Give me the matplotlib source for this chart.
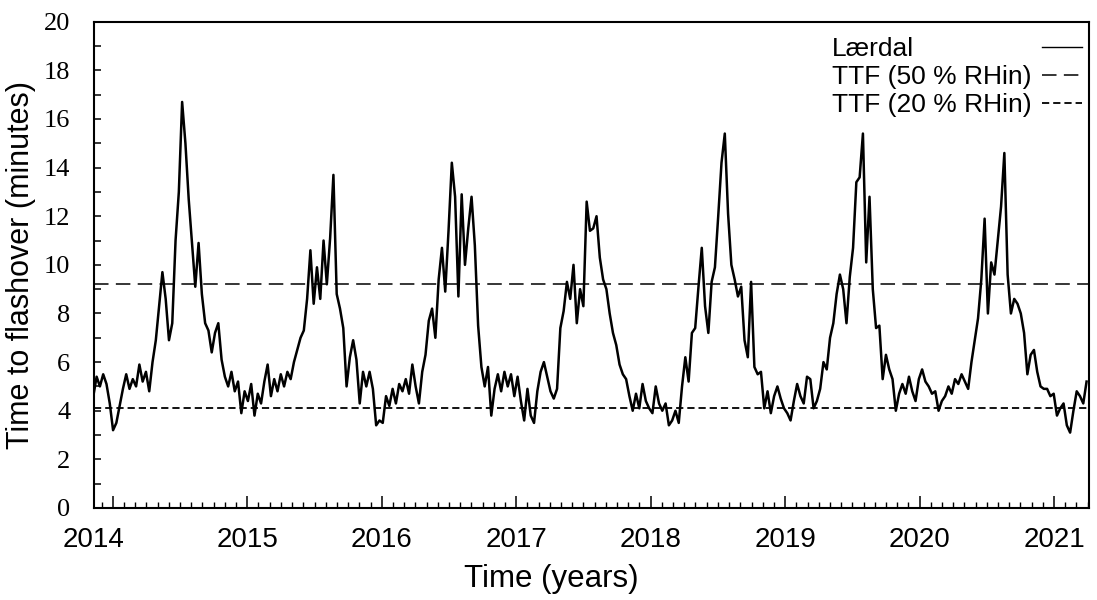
import numpy as np
import matplotlib.pyplot as plt
from matplotlib.ticker import MultipleLocator

# Time to flashover at Lærdal.
# One value roughly every 9 days, starting late Nov 2013.
t_start = 2013.855
t_step = 0.02446  # years

ttf_a = [4.6, 5.4, 5.0, 5.5, 5.1, 4.3, 3.2, 3.5, 4.2, 4.9,
         5.5, 4.9, 5.3, 5.0, 5.9, 5.2, 5.6, 4.8, 6.0, 6.9,
         8.3, 9.7, 8.6, 6.9, 7.6, 11.0, 13.0, 16.7, 15.0, 12.7,
         10.9, 9.1, 10.9, 8.8, 7.6, 7.3, 6.4, 7.2]
ttf_b = [7.6, 6.1, 5.4, 5.0, 5.6, 4.8, 5.2, 3.9, 4.8, 4.4,
         5.1, 3.8, 4.7, 4.3, 5.2, 5.9, 4.6, 5.3, 4.8, 5.5,
         5.0, 5.6, 5.3, 6.0, 6.5, 7.0, 7.3, 8.6, 10.6, 8.4,
         9.9, 8.6, 11.0, 9.2, 11.1, 13.7, 8.8, 8.2]
ttf_c = [7.4, 5.0, 6.2, 6.9, 6.1, 4.3, 5.6, 5.0, 5.6, 4.9,
         3.4, 3.6, 3.5, 4.6, 4.2, 4.9, 4.3, 5.1, 4.8, 5.3,
         4.7, 5.9, 5.0, 4.3, 5.6, 6.3, 7.7, 8.2, 7.0, 9.4,
         10.7, 8.9, 11.4, 14.2, 12.8, 8.7, 12.9, 10.0]
ttf_d = [11.5, 12.8, 10.8, 7.5, 5.8, 5.0, 5.8, 3.8, 4.9, 5.5,
         4.8, 5.6, 5.0, 5.5, 4.6, 5.4, 4.4, 3.6, 4.9, 3.8,
         3.5, 4.8, 5.6, 6.0, 5.4, 4.8, 4.5, 4.9, 7.4, 8.1,
         9.3, 8.6, 10.0, 7.6, 9.0, 8.3, 12.6, 11.4]
ttf_e = [11.5, 12.0, 10.3, 9.4, 9.0, 8.0, 7.2, 6.7, 5.9, 5.5,
         5.3, 4.6, 4.0, 4.7, 4.1, 5.1, 4.4, 4.1, 3.9, 5.0,
         4.3, 4.0, 4.3, 3.4, 3.6, 4.0, 3.5, 5.0, 6.2, 5.2,
         7.2, 7.4, 9.1, 10.7, 8.3, 7.2, 9.3, 9.9]
ttf_f = [12.0, 14.2, 15.4, 12.1, 10.0, 9.4, 8.7, 9.1, 6.9, 6.2,
         9.3, 5.8, 5.5, 5.6, 4.1, 4.8, 3.9, 4.6, 5.0, 4.5,
         4.1, 3.9, 3.6, 4.4, 5.1, 4.6, 4.3, 5.4, 5.3, 4.1,
         4.4, 4.9, 6.0, 5.7, 7.0, 7.6, 8.8, 9.6]
ttf_g = [9.0, 7.6, 9.5, 10.7, 13.4, 13.6, 15.4, 10.1, 12.8, 9.0,
         7.4, 7.5, 5.3, 6.3, 5.7, 5.3, 4.0, 4.7, 5.1, 4.7,
         5.4, 4.8, 4.4, 5.3, 5.7, 5.2, 5.0, 4.7, 4.8, 4.0,
         4.4, 4.6, 5.0, 4.7, 5.3, 5.1, 5.5, 5.2]
ttf_h = [4.9, 6.0, 6.9, 7.8, 9.4, 11.9, 8.0, 10.1, 9.6, 11.0,
         12.4, 14.6, 9.6, 8.0, 8.6, 8.4, 8.0, 7.2, 5.5, 6.3,
         6.5, 5.6, 5.0, 4.9, 4.9, 4.6, 4.7, 3.8, 4.1, 4.3,
         3.4, 3.1, 4.0, 4.8, 4.6, 4.3, 5.2]

ttf = np.concatenate([ttf_a, ttf_b, ttf_c, ttf_d, ttf_e, ttf_f, ttf_g, ttf_h])
t = t_start + t_step * np.arange(len(ttf))

ttf_50 = 9.2   # TTF at 50 % RHin
ttf_20 = 4.1   # TTF at 20 % RHin

years = list(range(2014, 2022))

#%%

sans = 'Liberation Sans'
serif = 'Liberation Serif'
long_dash = (0, (9.5, 4.8))
short_dash = (0, (4.0, 2.2))

fig = plt.figure(figsize=(10.97, 6.0), dpi=100)
ax = fig.add_axes([94/1097, 1 - 508/600, 995/1097, 486.3/600])

ax.plot(t, ttf, color='black', lw=1.8)
ax.axhline(ttf_50, color='black', lw=1.1, ls=long_dash)
ax.axhline(ttf_20, color='black', lw=1.3, ls=short_dash)

ax.set_xlim(2013.86, 2021.26)
ax.set_ylim(0, 20)

ax.set_yticks(range(0, 21, 2))
ax.yaxis.set_minor_locator(MultipleLocator(1))
ax.set_xticks(years, labels=[''] + [str(y) for y in years[1:]])
ax.xaxis.set_minor_locator(MultipleLocator(1/12))

ax.tick_params(which='both', direction='in', top=False, right=False, color='black')
ax.tick_params(axis='x', which='major', length=9, width=1.1, pad=14,
               labelsize=20, labelfontfamily=sans)
ax.tick_params(axis='x', which='minor', length=4.5, width=1.0)
ax.tick_params(axis='y', which='both', length=5, width=1.1, pad=17,
               labelsize=19, labelfontfamily=serif)

# first year label sits at the left edge of the axis
ax.annotate('2014', xy=(0, 0), xycoords='axes fraction', xytext=(0, -14),
            textcoords='offset points', ha='center', va='top',
            fontsize=20, family=sans)

for s in ax.spines.values():
    s.set_linewidth(1.5)

ax.set_ylabel('Time to flashover (minutes)', fontsize=22, family=sans)
ax.yaxis.set_label_coords(-0.058, 0.5)
ax.set_xlabel('Time (years)', fontsize=22.5, family=sans)
ax.xaxis.set_label_coords(0.46, -0.116)

# legend: text left, line sample right
leg_items = [('Lærdal', '-', 1.0), ('TTF (50 % RHin)', long_dash, 1.1),
             ('TTF (20 % RHin)', short_dash, 1.3)]
base_y = [0.9295, 0.8719, 0.8143]
for (lab, ls, lw), y in zip(leg_items, base_y):
    ax.text(0.7417, y, lab, transform=ax.transAxes, fontsize=19,
            family=sans, va='baseline', ha='left')
    ax.plot([0.9528, 0.993], [y + 0.0185, y + 0.0185], transform=ax.transAxes,
            color='black', lw=lw, ls=ls)

plt.savefig('out.png', dpi=100)
